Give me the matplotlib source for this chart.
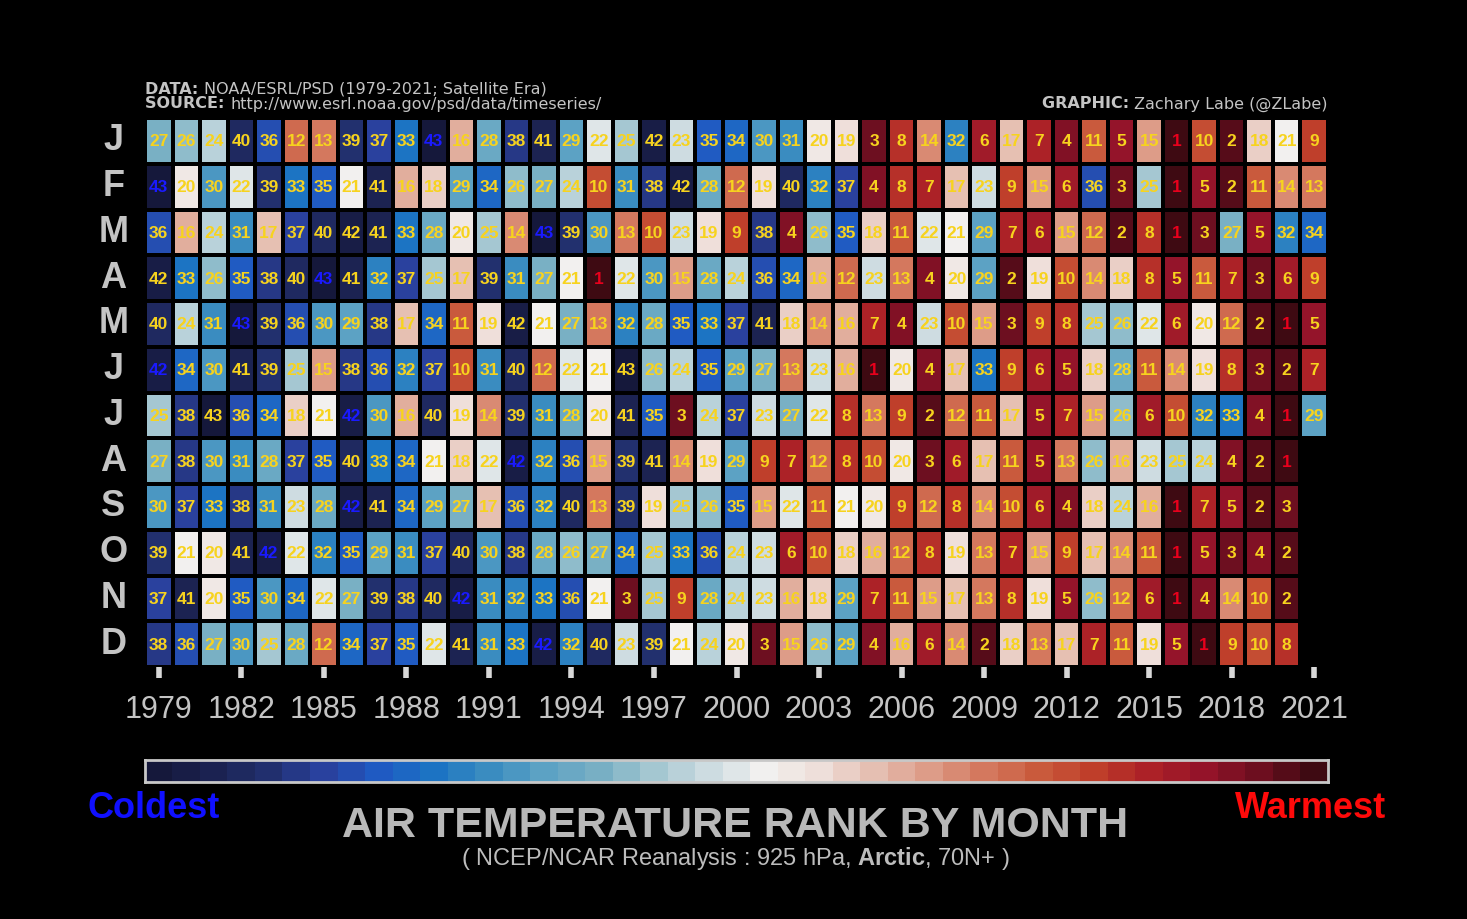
import numpy as np
import matplotlib
matplotlib.use("Agg")
import matplotlib.pyplot as plt
from matplotlib.colors import LinearSegmentedColormap, Normalize

# ranks by month (1 = warmest), 1979-2021
years = list(range(1979, 2022))
months = ['J', 'F', 'M', 'A', 'M', 'J', 'J', 'A', 'S', 'O', 'N', 'D']
jan = [27,26,24,40,36,12,13,39,37,33,43,16,28,38,41,29,22,25,42,23,35,34,30,31,20,19,3,8,14,32,6,17,7,4,11,5,15,1,10,2,18,21,9]
feb = [43,20,30,22,39,33,35,21,41,16,18,29,34,26,27,24,10,31,38,42,28,12,19,40,32,37,4,8,7,17,23,9,15,6,36,3,25,1,5,2,11,14,13]
mar = [36,16,24,31,17,37,40,42,41,33,28,20,25,14,43,39,30,13,10,23,19,9,38,4,26,35,18,11,22,21,29,7,6,15,12,2,8,1,3,27,5,32,34]
apr = [42,33,26,35,38,40,43,41,32,37,25,17,39,31,27,21,1,22,30,15,28,24,36,34,16,12,23,13,4,20,29,2,19,10,14,18,8,5,11,7,3,6,9]
may = [40,24,31,43,39,36,30,29,38,17,34,11,19,42,21,27,13,32,28,35,33,37,41,18,14,16,7,4,23,10,15,3,9,8,25,26,22,6,20,12,2,1,5]
jun = [42,34,30,41,39,25,15,38,36,32,37,10,31,40,12,22,21,43,26,24,35,29,27,13,23,16,1,20,4,17,33,9,6,5,18,28,11,14,19,8,3,2,7]
jul = [25,38,43,36,34,18,21,42,30,16,40,19,14,39,31,28,20,41,35,3,24,37,23,27,22,8,13,9,2,12,11,17,5,7,15,26,6,10,32,33,4,1,29]
aug = [27,38,30,31,28,37,35,40,33,34,21,18,22,42,32,36,15,39,41,14,19,29,9,7,12,8,10,20,3,6,17,11,5,13,26,16,23,25,24,4,2,1]
sep = [30,37,33,38,31,23,28,42,41,34,29,27,17,36,32,40,13,39,19,25,26,35,15,22,11,21,20,9,12,8,14,10,6,4,18,24,16,1,7,5,2,3]
oct_ = [39,21,20,41,42,22,32,35,29,31,37,40,30,38,28,26,27,34,25,33,36,24,23,6,10,18,16,12,8,19,13,7,15,9,17,14,11,1,5,3,4,2]
nov = [37,41,20,35,30,34,22,27,39,38,40,42,31,32,33,36,21,3,25,9,28,24,23,16,18,29,7,11,15,17,13,8,19,5,26,12,6,1,4,14,10,2]
dec = [38,36,27,30,25,28,12,34,37,35,22,41,31,33,42,32,40,23,39,21,24,20,3,15,26,29,4,16,6,14,2,18,13,17,7,11,19,5,1,9,10,8]
# rank that gets the blue "coldest" label in each month
coldest = [43, 43, 43, 43, 43, 42, 42, 42, 42, 42, 42, 42]

rows = [jan, feb, mar, apr, may, jun, jul, aug, sep, oct_, nov, dec]
ranks = np.full((12, len(years)), np.nan)
for i, r in enumerate(rows):
    ranks[i, :len(r)] = r

# warm (rank 1) -> cold (rank 43)
cmap = LinearSegmentedColormap.from_list('rank', [
    '#3e0a12', '#6e0f20', '#95142a', '#ad2227', '#c0402b', '#ca5c3e', '#d4785e', '#dd9c88',
    '#e6c0b3', '#efe0db', '#f2f1f0', '#cfdde2', '#a6c8d2', '#79b0c4', '#5ca2c4', '#3a8cc0',
    '#1c75c3', '#1f5cc4', '#2a42a0', '#22306f', '#1c2352', '#15183b'])
norm = Normalize(1, 43)

plt.rcParams['font.family'] = ['Liberation Sans', 'DejaVu Sans']
plt.rcParams['mathtext.fontset'] = 'custom'
plt.rcParams['mathtext.rm'] = 'Liberation Sans'
plt.rcParams['mathtext.bf'] = 'Liberation Sans:bold'

W, H = 1467, 919
fig = plt.figure(figsize=(W / 100, H / 100), dpi=100, facecolor='black')
renderer = fig.canvas.get_renderer()
gray = '#c4c4c4'


def bold_label(x, y, head, rest, align='left', size=11.5):
    # bold prefix followed by plain text, laid out side by side in pixels
    kw = dict(color=gray, fontsize=size, va='center', family='DejaVu Sans')
    t1 = fig.text(0, 1 - y / H, head, fontweight='bold', **kw)
    t2 = fig.text(0, 1 - y / H, rest, **kw)
    w1 = t1.get_window_extent(renderer).width
    w2 = t2.get_window_extent(renderer).width
    start = x if align == 'left' else x - w1 - w2
    t1.set_x(start / W)
    t2.set_x((start + w1) / W)


ax = fig.add_axes([145 / W, 1 - 667 / H, 1183 / W, 549 / H])
ax.set_facecolor('black')
ax.pcolormesh(np.arange(len(years) + 1), np.arange(13), ranks, cmap=cmap, norm=norm,
              edgecolors='black', linewidth=1.6)
ax.set_xlim(0, len(years))
ax.set_ylim(12, 0)
for s in ax.spines.values():
    s.set_visible(False)

for i in range(12):
    for j in range(len(years)):
        v = ranks[i, j]
        if np.isnan(v):
            continue
        if v == 1:
            c = '#e8001c'
        elif v == coldest[i]:
            c = '#1a1aff'
        else:
            c = '#f7d31e'
        ax.text(j + 0.5, i + 0.52, '%d' % v, ha='center', va='center', color=c,
                fontsize=12.5, fontweight='bold')
    ax.text(-1.15, i + 0.5, months[i], ha='center', va='center', color=gray,
            fontsize=26, fontweight='bold')

ax.set_yticks([])
ax.set_xticks(np.arange(0, len(years), 3) + 0.5)
ax.set_xticklabels([str(y) for y in years[::3]], fontsize=22, color=gray)
ax.tick_params(axis='x', length=8, width=4, color='#d8d8d8', pad=12)

# header
bold_label(145, 89, 'DATA: ', 'NOAA/ESRL/PSD (1979-2021; Satellite Era)')
bold_label(145, 104, 'SOURCE: ', 'http://www.esrl.noaa.gov/psd/data/timeseries/')
bold_label(1328, 104, 'GRAPHIC: ', 'Zachary Labe (@ZLabe)', align='right')

# colour bar
cax = fig.add_axes([145 / W, 1 - 782 / H, 1183 / W, 22 / H])
cax.imshow(np.arange(43, 0, -1)[None, :], cmap=cmap, norm=norm, aspect='auto',
           interpolation='nearest')
cax.set_xticks([])
cax.set_yticks([])
for s in cax.spines.values():
    s.set_color('#c8c8c8')
    s.set_linewidth(2)

fig.text(154 / W, 1 - 808 / H, 'Coldest', color='#1010ff', fontsize=26, fontweight='bold',
         ha='center', va='center')
fig.text(1311 / W, 1 - 808 / H, 'Warmest', color='#ff0a0a', fontsize=26, fontweight='bold',
         ha='center', va='center')
fig.text(735 / W, 1 - 826 / H, 'AIR TEMPERATURE RANK BY MONTH', color='#b8b8b8', fontsize=31,
         fontweight='bold', ha='center', va='center')
fig.text(735 / W, 1 - 858 / H, r'( NCEP/NCAR Reanalysis : 925 hPa, $\mathbf{Arctic}$, 70N+ )',
         color='#bdbdbd', fontsize=17, ha='center', va='center')

fig.savefig('out.png', dpi=100, facecolor='black')
